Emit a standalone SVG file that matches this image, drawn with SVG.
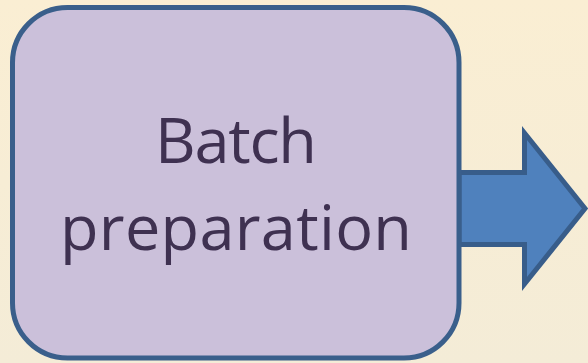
<svg xmlns="http://www.w3.org/2000/svg" width="588" height="363" viewBox="0 0 588 363">
<defs>
<linearGradient id="bg" x1="0" y1="0" x2="0" y2="1">
<stop offset="0" stop-color="#FAEED3"/>
<stop offset="1" stop-color="#F4ECD7"/>
</linearGradient>
<style>
.node{fill:#CBC0DA;stroke:#3A5F8B;stroke-width:5}
.lbl{font-family:"Open Sans","DejaVu Sans",sans-serif;font-size:63px;fill:#3F3151;text-anchor:middle}
.arrow{fill:#4F81BD;stroke:#385D8A;stroke-width:5;stroke-linejoin:miter}
</style>
</defs>
<rect width="588" height="363" fill="url(#bg)"/>
<g id="connectors">
<polygon class="arrow" points="459,172.5 524.5,172.5 524.5,133 585,208.5 524.5,284 524.5,244.5 459,244.5"/>
</g>
<g id="batch-preparation">
<rect class="node" x="12.5" y="7.5" width="446.5" height="350.5" rx="55" ry="55"/>
<text class="lbl" x="236" y="163" textLength="162" lengthAdjust="spacing">Batch</text>
<text class="lbl" x="236" y="250" textLength="352" lengthAdjust="spacing">preparation</text>
</g>
</svg>
